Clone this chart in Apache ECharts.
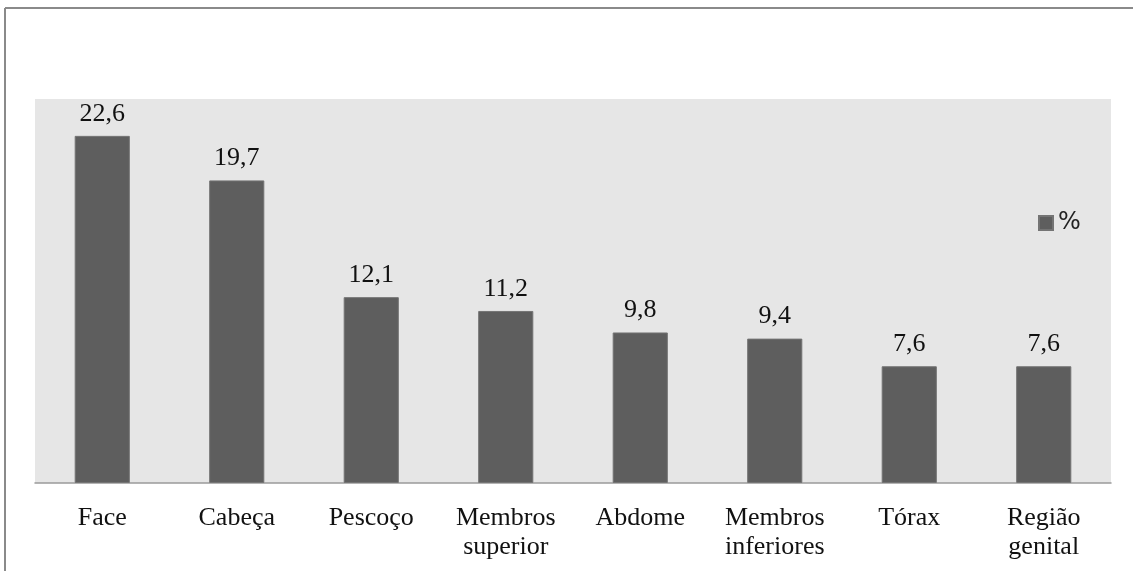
<!DOCTYPE html>
<html>
<head>
<meta charset="utf-8">
<script src="https://cdn.jsdelivr.net/npm/echarts@6/dist/echarts.min.js"></script>
<style>
  html, body { margin: 0; padding: 0; background: #fff; }
  #chart { width: 1133px; height: 571px; }
</style>
</head>
<body>
<div id="chart"></div>
<script>
// Regions of the body and their share (%)
const categories = ['Face', 'Cabeça', 'Pescoço', 'Membros\nsuperior', 'Abdome', 'Membros\ninferiores', 'Tórax', 'Região\ngenital'];
const percentages = [22.6, 19.7, 12.1, 11.2, 9.8, 9.4, 7.6, 7.6];
const seriesName = '%';

const serif = '"Liberation Serif", "DejaVu Serif", serif';

const chart = echarts.init(document.getElementById('chart'));
chart.setOption({
  animation: false,
  backgroundColor: '#ffffff',
  grid: {
    left: 35, right: 22, top: 99, bottom: 88,
    show: true, backgroundColor: '#e6e6e6', borderWidth: 0
  },
  legend: {
    data: [seriesName],
    left: 1038, top: 211, padding: 0,
    itemWidth: 14, itemHeight: 14, itemGap: 6,
    icon: 'rect',
    textStyle: { fontFamily: '"DejaVu Sans", sans-serif', fontSize: 24, color: '#222', padding: [6, 0, 0, 0] }
  },
  xAxis: {
    type: 'category',
    data: categories,
    axisLine: { show: true, lineStyle: { color: '#9a9a9a', width: 1.5 } },
    axisTick: { show: false },
    axisLabel: {
      interval: 0, margin: 21,
      fontFamily: serif, fontSize: 26, color: '#111', lineHeight: 28.5
    }
  },
  yAxis: {
    type: 'value', min: 0, max: 25,
    show: false,
    splitLine: { show: false }
  },
  series: [{
    name: seriesName,
    type: 'bar',
    data: percentages,
    barWidth: '41%',
    itemStyle: { color: '#5e5e5e', borderColor: '#747474', borderWidth: 1 },
    label: {
      show: true, position: 'top', distance: 9,
      fontFamily: serif, fontSize: 26, color: '#111',
      formatter: p => String(p.value).replace('.', ',')
    }
  }],
  graphic: [
    { type: 'line', shape: { x1: 5, y1: 8, x2: 1133, y2: 8 }, style: { stroke: '#8a8a8a', lineWidth: 2 } },
    { type: 'line', shape: { x1: 5, y1: 8, x2: 5, y2: 571 }, style: { stroke: '#8a8a8a', lineWidth: 2 } }
  ]
});
</script>
</body>
</html>
